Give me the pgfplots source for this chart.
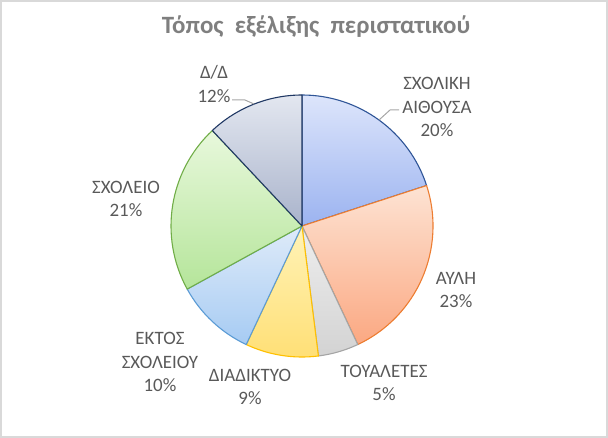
\documentclass[border=0pt]{standalone}
\usepackage{pgfplots}
\pgfplotsset{compat=1.18}
\usepackage{pgfplotstable}
\usepackage{fontspec}
\setmainfont{Carlito}

% slice colours: top of gradient, bottom of gradient, outline
\definecolor{t0}{HTML}{DDE5FB}\definecolor{b0}{HTML}{9BB3F0}\definecolor{l0}{HTML}{2F5597}
\definecolor{t1}{HTML}{FDE3D3}\definecolor{b1}{HTML}{FBA882}\definecolor{l1}{HTML}{ED7D31}
\definecolor{t2}{HTML}{EEEEEE}\definecolor{b2}{HTML}{D3D3D3}\definecolor{l2}{HTML}{A5A5A5}
\definecolor{t3}{HTML}{FFF3B8}\definecolor{b3}{HTML}{FFDF75}\definecolor{l3}{HTML}{FFC000}
\definecolor{t4}{HTML}{DFEBF9}\definecolor{b4}{HTML}{A6CBF3}\definecolor{l4}{HTML}{5B9BD5}
\definecolor{t5}{HTML}{E8F8DC}\definecolor{b5}{HTML}{B5E59A}\definecolor{l5}{HTML}{70AD47}
\definecolor{t6}{HTML}{E3E7F0}\definecolor{b6}{HTML}{A9B3CB}\definecolor{l6}{HTML}{203864}
\definecolor{lblgray}{HTML}{595959}
\definecolor{titlegray}{HTML}{7F7F7F}
\definecolor{framegray}{HTML}{D9D9D9}
\definecolor{leader}{HTML}{A6A6A6}

\tikzset{lbl/.style={font=\fontsize{19}{23.5}\selectfont, text=lblgray,
                     align=center, inner sep=0pt}}

% percentages, clockwise from 12 o'clock
\pgfplotstableread{
value
20
23
5
9
10
21
12
}\piedata

% start / end angle of each slice
\def\cum{0}
\pgfplotsforeachungrouped \i in {0,...,6}{%
  \pgfplotstablegetelem{\i}{value}\of\piedata
  \pgfmathsetmacro\angS{90-3.6*\cum}%
  \pgfmathsetmacro\cum{\cum+\pgfplotsretval}%
  \pgfmathsetmacro\angE{90-3.6*\cum}%
  \expandafter\xdef\csname sa\i\endcsname{\angS}%
  \expandafter\xdef\csname ea\i\endcsname{\angE}%
}

\def\cx{302}
\def\cy{226}
\def\rr{131}

\begin{document}
\begin{tikzpicture}
\begin{axis}[
  width=608bp, height=438bp, scale only axis,
  xmin=0, xmax=608, ymin=0, ymax=438,
  y dir=reverse,
  hide axis, clip=false,
]
  \draw[framegray, line width=2bp] (axis cs:1,1) rectangle (axis cs:607,437);

  \pgfplotsinvokeforeach{0,...,6}{
    \shadedraw[top color=t#1, bottom color=b#1, draw=l#1, line width=1.1bp,
               line join=round]
      (axis cs:\cx,\cy)
      -- (axis cs:{\cx+\rr*cos(\csname sa#1\endcsname)},{\cy-\rr*sin(\csname sa#1\endcsname)})
      arc[start angle=\csname sa#1\endcsname, end angle=\csname ea#1\endcsname, radius=131bp]
      -- cycle;
  }

  \draw[leader, line width=1bp] (axis cs:399,110) -- (axis cs:390,110) -- (axis cs:379,120);
  \draw[leader, line width=1bp] (axis cs:232,100) -- (axis cs:245,100) -- (axis cs:254,104);

  \node[font=\fontsize{25}{30}\selectfont\bfseries, text=titlegray, inner sep=0pt]
    at (axis cs:316,27) {Τόπος\ \ εξέλιξης\ \ περιστατικού};

  \node[lbl] at (axis cs:437,107) {ΣΧΟΛΙΚΗ\\ΑΙΘΟΥΣΑ\\20\%};
  \node[lbl] at (axis cs:456,290) {ΑΥΛΗ\\23\%};
  \node[lbl] at (axis cs:384,383) {ΤΟΥΑΛΕΤΕΣ\\5\%};
  \node[lbl] at (axis cs:250,387) {ΔΙΑΔΙΚΤΥΟ\\9\%};
  \node[lbl] at (axis cs:160,362) {ΕΚΤΟΣ\\ΣΧΟΛΕΙΟΥ\\10\%};
  \node[lbl] at (axis cs:126,199) {ΣΧΟΛΕΙΟ\\21\%};
  \node[lbl] at (axis cs:214,84) {Δ/Δ\\12\%};
\end{axis}
\end{tikzpicture}
\end{document}
